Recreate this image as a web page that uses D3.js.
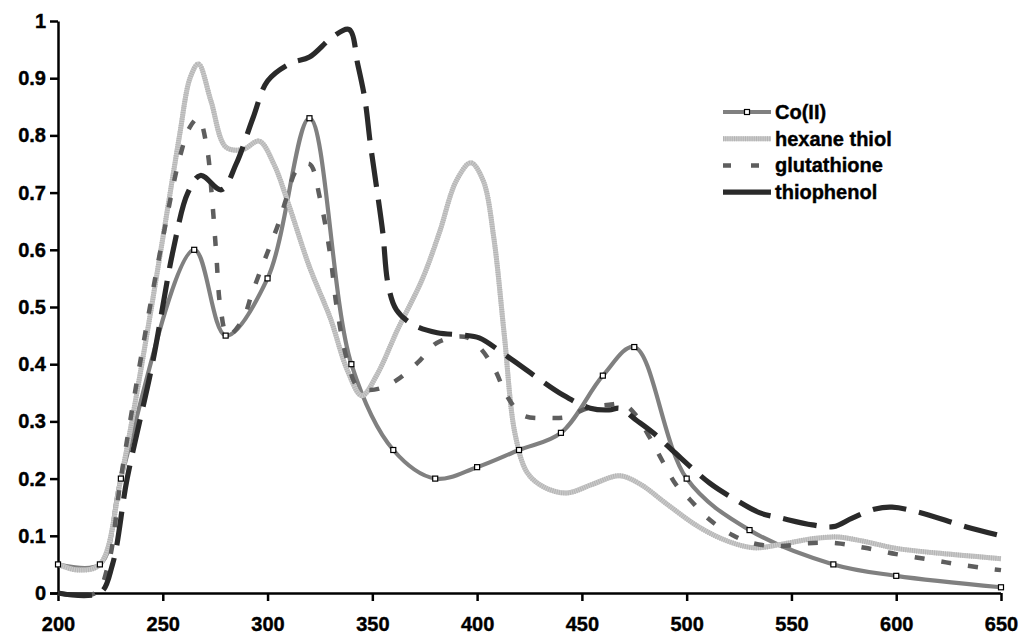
<!DOCTYPE html>
<html><head><meta charset="utf-8">
<script src="https://cdn.jsdelivr.net/npm/d3@7"></script>
<style>
html,body{margin:0;padding:0;background:#fff;}
text{font-family:"Liberation Sans",Arial,sans-serif;font-weight:bold;fill:#000;}
</style></head>
<body><svg id="c" width="1021" height="638"></svg>
<script>
// ---- data ----
const xTicks = [200,250,300,350,400,450,500,550,600,650];
const yTicks = [0,0.1,0.2,0.3,0.4,0.5,0.6,0.7,0.8,0.9,1];
const yTickLabels = ["0","0.1","0.2","0.3","0.4","0.5","0.6","0.7","0.8","0.9","1"];
const seriesNames = ["Co(II)","hexane thiol","glutathione","thiophenol"];

const coX = [200,220,230,265,280,300,320,340,360,380,400,420,440,460,475,500,530,570,600,650];
const coY = [0.05,0.05,0.2,0.6,0.45,0.55,0.83,0.4,0.25,0.2,0.22,0.25,0.28,0.38,0.43,0.2,0.11,0.05,0.03,0.01];

const hexX = [200,210,220,230,240,250,258,263,267,273,280,288,296,303,310,320,330,338,345,352,362,374,382,390,397,403,408,413,418,424,432,443,455,468,478,490,506,520,532,545,560,572,585,600,625,650];
const hexY = [0.05,0.04,0.05,0.2,0.4,0.62,0.8,0.9,0.925,0.86,0.78,0.775,0.79,0.75,0.68,0.57,0.48,0.39,0.345,0.38,0.46,0.55,0.63,0.72,0.752,0.72,0.62,0.45,0.28,0.21,0.185,0.175,0.19,0.205,0.19,0.157,0.115,0.09,0.079,0.085,0.095,0.098,0.09,0.078,0.068,0.06];

const gluX = [200,218,224,230,240,250,258,263,267,271,273.5,275.5,277.5,281,288,292.6,297.3,301,305.5,309,314,320,325,329.8,333,338,343,348,354,361.6,372,380.7,394,401,408.5,414,421.8,434.7,443,452.6,463,470,476,482.5,488.7,495,501.6,511,522,531.6,544.5,558,571.7,585,600,615,628,641,650];
const gluY = [0,0,0.05,0.2,0.42,0.62,0.76,0.815,0.83,0.78,0.69,0.594,0.5,0.45,0.477,0.524,0.57,0.605,0.649,0.69,0.74,0.75,0.69,0.594,0.5,0.407,0.36,0.355,0.358,0.372,0.404,0.437,0.448,0.43,0.39,0.346,0.311,0.306,0.308,0.323,0.329,0.33,0.31,0.271,0.229,0.189,0.163,0.128,0.101,0.087,0.082,0.087,0.087,0.079,0.068,0.059,0.051,0.044,0.04];

const thioX = [200,220,226,233,245,255,262,268,278,285,293,300,311,320,331,339,343,346.5,349,352,355,357.5,361.5,369.5,381,393,401,412,425,441,454,463,468,476,484,493,511,522,535,545,560,570,579,590,598,610,634,650];
const thioY = [0,0,0.05,0.2,0.4,0.6,0.7,0.73,0.705,0.75,0.83,0.895,0.926,0.937,0.972,0.985,0.925,0.862,0.787,0.71,0.63,0.54,0.495,0.469,0.455,0.451,0.446,0.42,0.386,0.346,0.323,0.32,0.323,0.302,0.28,0.25,0.192,0.166,0.14,0.131,0.119,0.116,0.131,0.147,0.15,0.142,0.115,0.1];

// ---- layout ----
const svg = d3.select("#c");
const x = d3.scaleLinear().domain([200,650]).range([58,1001]);
const y = d3.scaleLinear().domain([0,1]).range([593,21]);

const zip = (a,b)=>a.map((v,i)=>[v,b[i]]);
const line = d3.line().x(d=>x(d[0])).y(d=>y(d[1])).curve(d3.curveCatmullRom.alpha(0.5));

// axes
const yAxis = svg.append("g").attr("transform","translate(58,0)")
  .call(d3.axisLeft(y).tickValues(yTicks).tickFormat((d,i)=>yTickLabels[i]).tickSize(8).tickPadding(4).tickSizeOuter(0));
const xAxis = svg.append("g").attr("transform","translate(0,593)")
  .call(d3.axisBottom(x).tickValues(xTicks).tickFormat(d3.format("d")).tickSize(8).tickPadding(16).tickSizeOuter(0));
[yAxis,xAxis].forEach(g=>{
  g.select(".domain").attr("stroke","#000").attr("stroke-width",2.5);
  g.selectAll(".tick line").attr("stroke","#000").attr("stroke-width",2.5);
  g.selectAll("text").style("font-size","20px").attr("fill","#000")
    .attr("stroke","#000").attr("stroke-width",0.4);
});
xAxis.select(".domain").attr("d","M50,0.5H1001");

// series styles
const styles = [
  {stroke:"#808080", width:4.2, dash:null},
  {stroke:"#cacaca", width:5, dash:null, hatch:"#b4b4b4"},
  {stroke:"#5e5e5e", width:4.5, dash:"10,17"},
  {stroke:"#2a2a2a", width:5.2, dash:"34,13"}
];
const data = [zip(coX,coY), zip(hexX,hexY), zip(gluX,gluY), zip(thioX,thioY)];

const plot = svg.append("g");
data.forEach((d,i)=>{
  const s = styles[i];
  const p = plot.append("path").attr("d",line(d)).attr("fill","none")
    .attr("stroke",s.stroke).attr("stroke-width",s.width).attr("stroke-linejoin","round");
  if(s.dash) p.attr("stroke-dasharray",s.dash);
  if(s.hatch){
    plot.append("path").attr("d",line(d)).attr("fill","none")
      .attr("stroke",s.hatch).attr("stroke-width",s.width).attr("stroke-dasharray","1,1.2");
  }
});
// Co(II) markers
plot.selectAll("rect.m").data(data[0]).enter().append("rect")
  .attr("x",d=>x(d[0])-2.5).attr("y",d=>y(d[1])-2.5).attr("width",5).attr("height",5)
  .attr("fill","#fff").attr("stroke","#000").attr("stroke-width",1.2);

// legend
const leg = svg.append("g");
const legY0 = 112, legStep = 26.7;
seriesNames.forEach((n,i)=>{
  const s = styles[i], yy = legY0 + i*legStep;
  const l = leg.append("line").attr("x1",723).attr("x2",771).attr("y1",yy).attr("y2",yy)
    .attr("stroke",s.stroke).attr("stroke-width",s.width);
  if(s.dash) l.attr("stroke-dasharray", i===2 ? "8,20" : "48,0");
  if(s.hatch) leg.append("line").attr("x1",723).attr("x2",771).attr("y1",yy).attr("y2",yy)
    .attr("stroke",s.hatch).attr("stroke-width",s.width).attr("stroke-dasharray","1,1.2");
  if(i===0) leg.append("rect").attr("x",744.5).attr("y",yy-2.5).attr("width",5).attr("height",5)
    .attr("fill","#fff").attr("stroke","#000").attr("stroke-width",1.2);
  leg.append("text").attr("x",775).attr("y",yy).attr("dy","0.35em").style("font-size","20px")
    .attr("stroke","#000").attr("stroke-width",0.4).text(n);
});
</script></body></html>
